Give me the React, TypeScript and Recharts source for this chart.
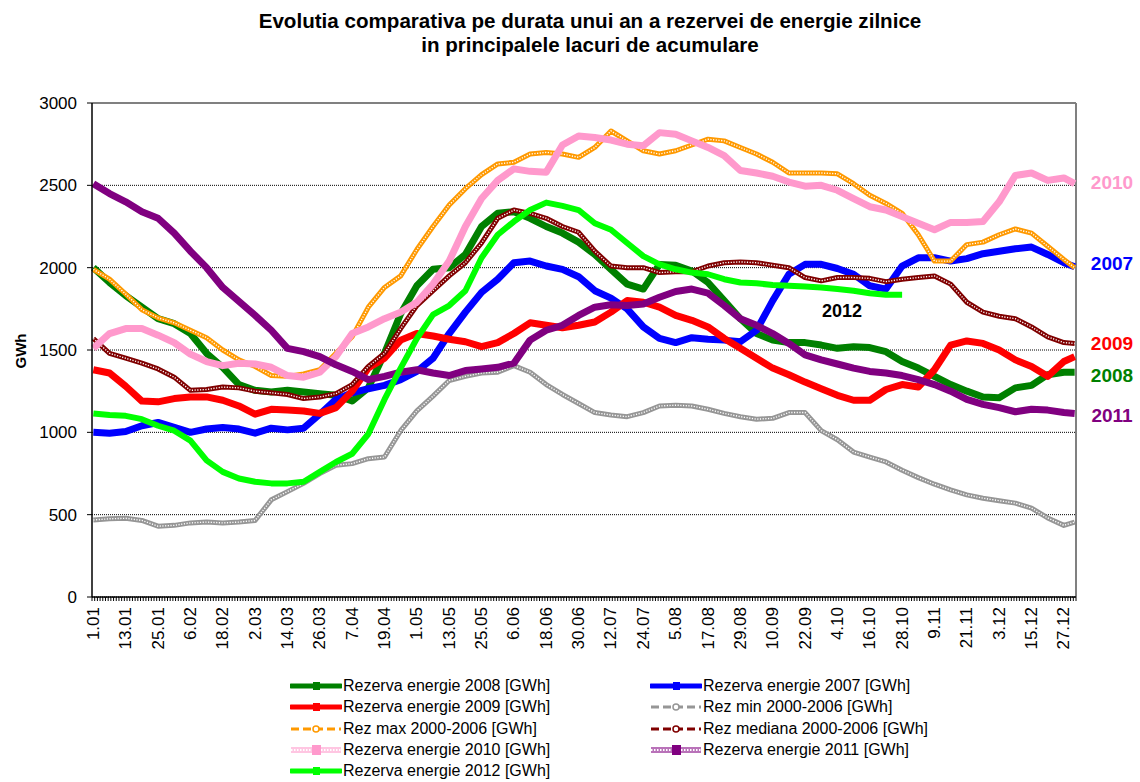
import { CartesianGrid, Line, LineChart, ReferenceLine, XAxis, YAxis } from "recharts";

const FONT = '"Liberation Sans", Arial, Helvetica, sans-serif';

// day of the year (0 = 1 Jan) of each reading
const days = [
  0, 6, 12, 18, 24, 30, 36, 42, 48, 54, 60, 66, 72, 78, 84, 90, 96, 102, 108, 114,
  120, 126, 132, 138, 144, 150, 156, 162, 168, 174, 180, 186, 192, 198, 204, 210, 216, 222, 228, 234,
  240, 246, 252, 258, 264, 270, 276, 282, 288, 294, 300, 306, 312, 318, 324, 330, 336, 342, 348, 354,
  360, 364,
];

// one label every 12 days
const tickLabels = [
  "1.01", "13.01", "25.01", "6.02", "18.02", "2.03", "14.03", "26.03", "7.04", "19.04", "1.05",
  "13.05", "25.05", "6.06", "18.06", "30.06", "12.07", "24.07", "5.08", "17.08", "29.08", "10.09",
  "22.09", "4.10", "16.10", "28.10", "9.11", "21.11", "3.12", "15.12", "27.12",
];

const yTicks = [0, 500, 1000, 1500, 2000, 2500, 3000];

// GWh
const rez2008 = [
  2000, 1910, 1830, 1760, 1690, 1660, 1600, 1480, 1395, 1290,
  1255, 1245, 1255, 1245, 1235, 1225, 1190, 1270, 1480, 1720,
  1890, 1990, 2000, 2080, 2250, 2330, 2340, 2300, 2250, 2210,
  2155, 2080, 1990, 1900, 1870, 2020, 2015, 1980, 1910, 1800,
  1690, 1600, 1560, 1545, 1545, 1530, 1510, 1520, 1515, 1490,
  1430, 1390, 1340, 1290, 1250, 1215, 1210, 1270, 1285, 1350,
  1365, 1365,
];
const rez2007 = [
  1000, 995, 1005, 1040, 1060, 1030, 1000, 1020, 1030, 1020,
  995, 1025, 1015, 1025, 1110, 1200, 1240, 1265, 1285, 1320,
  1370, 1450, 1600, 1730, 1850, 1930, 2030, 2040, 2010, 1990,
  1945, 1860, 1815, 1750, 1640, 1570, 1545, 1575, 1565, 1560,
  1550, 1620, 1800, 1960, 2020, 2020, 1995, 1960, 1890, 1870,
  2010, 2060, 2060, 2040, 2055, 2085, 2100, 2115, 2125, 2080,
  2030, 2005,
];
const rez2009 = [
  1380, 1360, 1280, 1190, 1185, 1205, 1215, 1215, 1195, 1160,
  1110, 1140, 1135, 1130, 1115, 1150, 1250, 1390, 1450, 1560,
  1600, 1585, 1565, 1550, 1520, 1545, 1600, 1665, 1650, 1635,
  1650, 1670, 1730, 1800, 1790, 1760, 1710, 1680, 1640, 1570,
  1510, 1450, 1390, 1350, 1305, 1265, 1225, 1195, 1195, 1260,
  1290, 1275, 1380, 1530, 1555, 1540, 1500, 1440, 1400, 1340,
  1430, 1460,
];
const rezMin = [
  468, 475, 478, 465, 430, 435, 450, 455, 450, 455,
  465, 590, 640, 690, 750, 800, 810, 840, 850, 1010,
  1130, 1220, 1315, 1340, 1360, 1365, 1405, 1365, 1290, 1230,
  1175, 1120, 1105, 1095, 1120, 1160, 1165, 1160, 1140, 1115,
  1095, 1080, 1085, 1120, 1120, 1010, 955, 880, 850, 820,
  770, 725, 685, 650, 620, 600, 585, 570, 540, 480,
  435, 455,
];
const rezMax = [
  1990, 1930, 1840, 1745, 1695, 1665, 1620, 1575, 1500, 1440,
  1400, 1345, 1340, 1355, 1380, 1480, 1580, 1760, 1880, 1950,
  2110, 2250, 2380, 2480, 2565, 2630, 2640, 2690, 2700, 2690,
  2670, 2730, 2830, 2770, 2710, 2690, 2710, 2745, 2780, 2770,
  2730, 2690, 2640, 2575, 2575, 2575, 2570, 2510, 2440, 2390,
  2330, 2200, 2040, 2040, 2140, 2155, 2200, 2235, 2210, 2130,
  2050, 2000,
];
const rezMediana = [
  1570, 1480, 1450, 1420, 1385, 1335, 1255, 1260, 1275, 1270,
  1250, 1240, 1230, 1205, 1215, 1235, 1290, 1400, 1480, 1630,
  1770, 1860, 1950, 2030, 2150, 2300, 2350, 2330, 2300, 2250,
  2215, 2100, 2010, 2000, 2000, 1970, 1975, 1975, 2010, 2030,
  2035, 2030, 2015, 2000, 1940, 1920, 1940, 1940, 1935, 1915,
  1930, 1940, 1950, 1900, 1790, 1730, 1705, 1690, 1640, 1580,
  1545, 1540,
];
const rez2010 = [
  1510, 1600, 1630, 1630, 1590, 1545, 1475, 1430, 1405, 1420,
  1415, 1395, 1345, 1335, 1365, 1460, 1600, 1640, 1690, 1730,
  1790, 1900, 2040, 2250, 2420, 2530, 2600, 2585, 2580, 2745,
  2800, 2790, 2775, 2750, 2740, 2820, 2810, 2770, 2730, 2680,
  2590, 2575, 2555, 2520, 2495, 2500, 2470, 2420, 2370, 2350,
  2310, 2270, 2230, 2275, 2275, 2280, 2400, 2560, 2575, 2530,
  2545, 2510,
];
const rez2011 = [
  2510, 2450, 2400, 2340, 2300, 2210, 2100, 2000, 1880, 1795,
  1710, 1620, 1510, 1490, 1460, 1410, 1370, 1320, 1340, 1365,
  1380, 1360, 1345, 1375, 1385, 1395, 1420, 1560, 1620, 1650,
  1710, 1760, 1775, 1770, 1780, 1820, 1855, 1870, 1845, 1770,
  1690, 1650, 1600, 1540, 1470, 1440, 1415, 1390, 1370, 1360,
  1345, 1320, 1290, 1250, 1200, 1170, 1150, 1125, 1140, 1135,
  1120, 1115,
];
const rez2012 = [
  1115, 1105, 1100, 1080, 1040, 1010, 950, 830, 760, 720,
  700, 690, 690, 700, 760, 820, 870, 990, 1200, 1390,
  1570, 1715, 1770, 1860, 2060, 2200, 2280, 2350, 2395, 2375,
  2350, 2270, 2230, 2150, 2070, 2020, 1990, 1970, 1960, 1930,
  1910, 1905, 1895, 1890, 1885, 1880, 1870, 1860, 1845, 1835,
  1835,
];

const data = days.map((d, i) => ({
  x: d + 0.5,
  r2008: rez2008[i],
  r2007: rez2007[i],
  r2009: rez2009[i],
  rmin: rezMin[i],
  rmax: rezMax[i],
  rmed: rezMediana[i],
  r2010: rez2010[i],
  r2011: rez2011[i],
  r2012: rez2012[i] ?? null,
}));

// tick marks on every day boundary
const dayEdges = Array.from({ length: 366 }, (_, i) => i);

type Kind = "solid" | "dashed" | "checker";
const series: { key: string; name: string; color: string; width: number; kind: Kind }[] = [
  { key: "r2008", name: "Rezerva energie 2008 [GWh]", color: "#008000", width: 7, kind: "solid" },
  { key: "r2007", name: "Rezerva energie 2007 [GWh]", color: "#0000FF", width: 7, kind: "solid" },
  { key: "r2009", name: "Rezerva energie 2009 [GWh]", color: "#FF0000", width: 7, kind: "solid" },
  { key: "rmin", name: "Rez min 2000-2006 [GWh]", color: "#969696", width: 5, kind: "dashed" },
  { key: "rmax", name: "Rez max 2000-2006 [GWh]", color: "#FF9900", width: 5, kind: "dashed" },
  { key: "rmed", name: "Rez mediana 2000-2006 [GWh]", color: "#800000", width: 5, kind: "dashed" },
  { key: "r2010", name: "Rezerva energie 2010 [GWh]", color: "#FF99CC", width: 7, kind: "checker" },
  { key: "r2011", name: "Rezerva energie 2011 [GWh]", color: "#800080", width: 7, kind: "checker" },
  { key: "r2012", name: "Rezerva energie 2012 [GWh]", color: "#00FF00", width: 6, kind: "solid" },
];

const sideLabels = [
  { text: "2010", color: "#FF99CC", y: 183 },
  { text: "2007", color: "#0000FF", y: 264 },
  { text: "2009", color: "#FF0000", y: 344 },
  { text: "2008", color: "#008000", y: 376 },
  { text: "2011", color: "#800080", y: 416 },
];

const renderDayTick = (props: any) => {
  const { x, y, payload } = props;
  const d = payload.value as number;
  const label = d % 12 === 0 ? tickLabels[d / 12] : undefined;
  const cx = x + 1.35;
  const ty = y + 10;
  return (
    <g>
      <line x1={x} y1={y} x2={x} y2={y + 4} stroke="#000" strokeWidth={1} />
      {label && (
        <text
          x={cx}
          y={ty}
          transform={`rotate(-90 ${cx} ${ty})`}
          textAnchor="end"
          dominantBaseline="central"
          fontSize={17}
          fontFamily={FONT}
          fill="#000"
        >
          {label}
        </text>
      )}
    </g>
  );
};

function Marker({ color, kind }: { color: string; kind: Kind }) {
  return (
    <svg width={52} height={12} style={{ display: "block" }}>
      {kind === "solid" && (
        <>
          <line x1={1} y1={6} x2={51} y2={6} stroke={color} strokeWidth={5} strokeLinecap="round" />
          <rect x={23} y={2} width={7} height={8} fill={color} />
        </>
      )}
      {kind === "dashed" && (
        <>
          <line x1={1} y1={6} x2={51} y2={6} stroke={color} strokeWidth={3} strokeDasharray="8 4" />
          <circle cx={26} cy={6} r={3} fill="#fff" stroke={color} strokeWidth={1.5} />
        </>
      )}
      {kind === "checker" && (
        <>
          <line x1={1} y1={6} x2={51} y2={6} stroke={color} strokeWidth={6} opacity={0.55} />
          <line x1={1} y1={6} x2={51} y2={6} stroke="#fff" strokeWidth={2} strokeDasharray="1.5 1.5" />
          <rect x={22} y={1} width={9} height={10} fill={color} />
        </>
      )}
    </svg>
  );
}

export default function App() {
  const legendRows = [
    [series[0], series[1]],
    [series[2], series[3]],
    [series[4], series[5]],
    [series[6], series[7]],
    [series[8]],
  ];
  return (
    <div
      style={{
        position: "absolute",
        left: 0,
        top: 0,
        width: 1140,
        height: 782,
        background: "#fff",
        fontFamily: FONT,
      }}
    >
      <div
        style={{
          position: "absolute",
          left: 0,
          top: 9,
          width: 1180,
          textAlign: "center",
          fontSize: 20.6,
          fontWeight: "bold",
          lineHeight: "24px",
          color: "#000",
        }}
      >
        Evolutia comparativa pe durata unui an a rezervei de energie zilnice
        <br />
        in principalele lacuri de acumulare
      </div>

      <LineChart
        width={1140}
        height={782}
        data={data}
        margin={{ top: 103, right: 64, bottom: 115, left: 32 }}
        style={{ position: "absolute", left: 0, top: 0 }}
      >
        <CartesianGrid vertical={false} stroke="#000" strokeDasharray="1 1" />
        <XAxis
          type="number"
          dataKey="x"
          domain={[0, 365]}
          ticks={dayEdges}
          interval={0}
          tick={renderDayTick}
          tickLine={false}
          tickSize={0}
          tickMargin={0}
          height={70}
          axisLine={{ stroke: "#000", strokeWidth: 1.5 }}
        />
        <YAxis
          domain={[0, 3000]}
          ticks={yTicks}
          interval={0}
          width={60}
          tickSize={5}
          tickMargin={10}
          axisLine={{ stroke: "#000", strokeWidth: 1.5 }}
          tickLine={{ stroke: "#000" }}
          tick={{ fontSize: 17, fill: "#000", fontFamily: FONT }}
        />
        <ReferenceLine y={3000} stroke="#808080" strokeWidth={2} />
        <ReferenceLine x={365} stroke="#808080" strokeWidth={2} />
        {series.map((s) => [
          <Line
            key={s.key}
            type="linear"
            dataKey={s.key}
            name={s.name}
            stroke={s.color}
            strokeWidth={s.width}
            strokeLinejoin="round"
            dot={false}
            activeDot={false}
            isAnimationActive={false}
            connectNulls={false}
          />,
          s.kind === "dashed" ? (
            <Line
              key={s.key + "-holes"}
              type="linear"
              dataKey={s.key}
              stroke="#fff"
              strokeWidth={1.4}
              strokeDasharray="1.2 1.5"
              dot={false}
              activeDot={false}
              legendType="none"
              isAnimationActive={false}
            />
          ) : null,
        ])}
      </LineChart>

      <div
        style={{
          position: "absolute",
          left: 10,
          top: 340,
          width: 22,
          height: 22,
          fontSize: 15,
          fontWeight: "bold",
          lineHeight: "22px",
          transform: "rotate(-90deg)",
          textAlign: "center",
          display: "flex",
          justifyContent: "center",
          whiteSpace: "nowrap",
        }}
      >
        GWh
      </div>

      {sideLabels.map((l) => (
        <div
          key={l.text}
          style={{
            position: "absolute",
            left: 1082,
            width: 60,
            top: l.y - 11,
            height: 22,
            lineHeight: "22px",
            textAlign: "center",
            fontSize: 19,
            fontWeight: "bold",
            color: l.color,
          }}
        >
          {l.text}
        </div>
      ))}

      <div
        style={{
          position: "absolute",
          left: 812,
          width: 60,
          top: 300,
          height: 22,
          lineHeight: "22px",
          textAlign: "center",
          fontSize: 18,
          fontWeight: "bold",
          color: "#000",
        }}
      >
        2012
      </div>

      {legendRows.map((row, r) =>
        row.map((s, c) => (
          <div
            key={s.key}
            style={{
              position: "absolute",
              left: c === 0 ? 290 : 650,
              top: 686 + r * 21.3 - 10,
              height: 20,
              display: "flex",
              alignItems: "center",
              fontSize: 16,
              lineHeight: "20px",
              whiteSpace: "nowrap",
              color: "#000",
            }}
          >
            <Marker color={s.color} kind={s.kind} />
            <span style={{ marginLeft: 1 }}>{s.name}</span>
          </div>
        ))
      )}
    </div>
  );
}
